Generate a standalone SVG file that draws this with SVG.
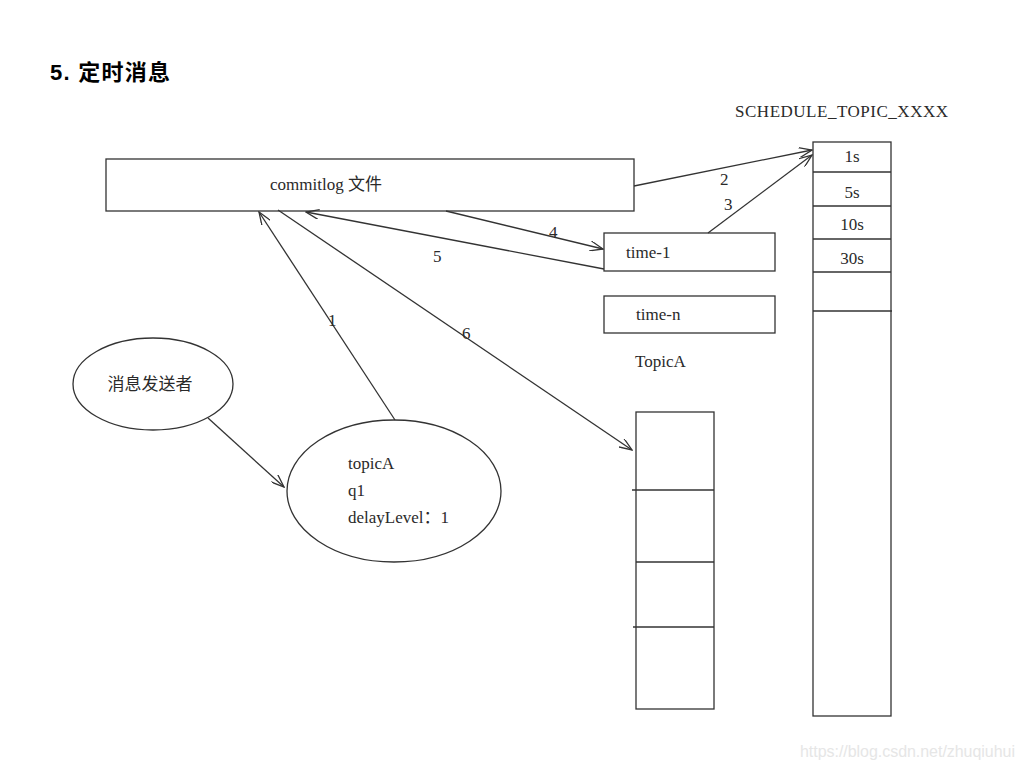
<svg xmlns="http://www.w3.org/2000/svg" width="1024" height="768" viewBox="0 0 1024 768">
<defs>
<marker id="arr" viewBox="0 0 14 10" refX="13" refY="5" markerWidth="14" markerHeight="10" markerUnits="userSpaceOnUse" orient="auto">
<path d="M0,0 L13,5 L0,10" fill="none" stroke="#333" stroke-width="1.3"/>
</marker>
</defs>
<style>
.s{fill:#fff;stroke:#333;stroke-width:1.3}
.ln{fill:none;stroke:#333;stroke-width:1.3}
.c{stroke:#333;stroke-width:1.3;fill:none;marker-end:url(#arr)}
.t{font-family:"Liberation Serif","Noto Sans CJK SC",serif;font-size:17px;fill:#2a2a2a}
.tc{text-anchor:middle}
</style>
<rect width="1024" height="768" fill="#fff"/>
<text x="50" y="80" font-family="'Liberation Sans','Noto Sans CJK SC',sans-serif" font-size="22" font-weight="bold" fill="#000" textLength="120">5. 定时消息</text>

<g id="commitlog">
<rect class="s" x="106" y="159" width="528" height="52"/>
<text class="t" x="270" y="190">commitlog 文件</text>
</g>

<g id="schedule">
<text class="t" x="735" y="117" textLength="213">SCHEDULE_TOPIC_XXXX</text>
<rect class="s" x="813" y="142" width="78" height="574"/>
<line class="ln" x1="813" y1="172" x2="891" y2="172"/>
<line class="ln" x1="813" y1="206" x2="891" y2="206"/>
<line class="ln" x1="813" y1="239" x2="891" y2="239"/>
<line class="ln" x1="813" y1="272" x2="891" y2="272"/>
<line class="ln" x1="813" y1="311" x2="892" y2="311"/>
<text class="t tc" x="852" y="162">1s</text>
<text class="t tc" x="852" y="198">5s</text>
<text class="t tc" x="852" y="230">10s</text>
<text class="t tc" x="852" y="264">30s</text>
</g>

<g id="time1">
<rect class="s" x="604" y="233" width="171" height="38"/>
<text class="t" x="626" y="258">time-1</text>
</g>

<g id="timen">
<rect class="s" x="604" y="296" width="171" height="37"/>
<text class="t" x="636" y="320">time-n</text>
</g>

<g id="topicA-queue">
<text class="t" x="635" y="367">TopicA</text>
<rect class="s" x="636" y="412" width="78" height="297"/>
<line class="ln" x1="632" y1="490" x2="714" y2="490"/>
<line class="ln" x1="636" y1="562" x2="714" y2="562"/>
<line class="ln" x1="633" y1="627" x2="714" y2="627"/>
</g>

<g id="sender">
<ellipse class="s" cx="153" cy="384" rx="80" ry="46"/>
<text class="t tc" x="150" y="390">消息发送者</text>
</g>

<g id="message">
<ellipse class="s" cx="394" cy="491" rx="107" ry="71"/>
<text class="t" x="348" y="469">topicA</text>
<text class="t" x="348" y="496">q1</text>
<text class="t" x="348" y="523">delayLevel：1</text>
</g>

<g id="connectors">
<line class="c" x1="208" y1="418" x2="284" y2="487"/>
<line class="c" x1="395" y1="420" x2="259" y2="212"/>
<line class="c" x1="278" y1="210" x2="632" y2="450"/>
<line class="c" x1="446" y1="211" x2="603" y2="249"/>
<line class="c" x1="604" y1="269" x2="306" y2="212"/>
<line class="c" x1="634" y1="186" x2="812" y2="150"/>
<line class="c" x1="708" y1="233" x2="812" y2="155"/>
<text class="t" x="328" y="326">1</text>
<text class="t" x="720" y="185">2</text>
<text class="t" x="724" y="210">3</text>
<text class="t" x="549" y="238">4</text>
<text class="t" x="433" y="262">5</text>
<text class="t" x="462" y="339">6</text>
</g>

<text x="800" y="757" font-family="'Liberation Sans',sans-serif" font-size="16" fill="#e6e6e6" textLength="215">https://blog.csdn.net/zhuqiuhui</text>
</svg>
